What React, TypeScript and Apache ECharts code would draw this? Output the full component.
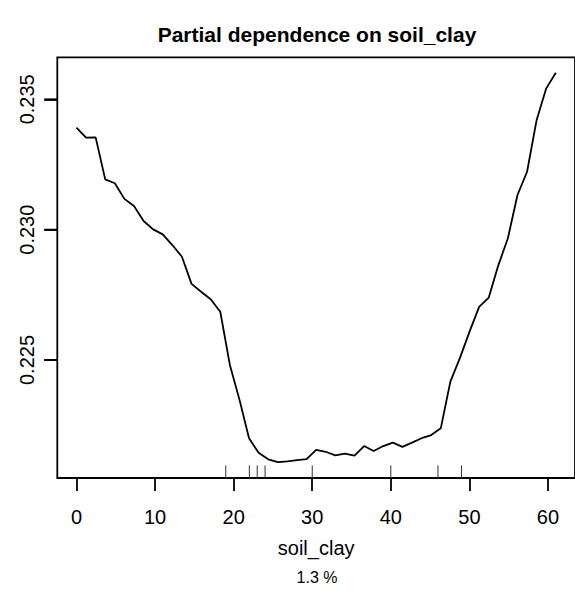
import React, { useEffect, useRef } from "react";
import * as echarts from "echarts";

// ---- data ----
const soilClay = [
  0, 1.22, 2.44, 3.66, 4.88, 6.1, 7.32, 8.54, 9.76, 10.98, 12.2, 13.42, 14.64,
  15.86, 17.08, 18.3, 19.52, 20.74, 21.96, 23.18, 24.4, 25.62, 26.84, 28.06,
  29.28, 30.5, 31.72, 32.94, 34.16, 35.38, 36.6, 37.82, 39.04, 40.26, 41.48,
  42.7, 43.92, 45.14, 46.36, 47.58, 48.8, 50.02, 51.24, 52.46, 53.68, 54.9,
  56.12, 57.34, 58.56, 59.78, 61,
];
const partialDependence = [
  0.23391, 0.23353, 0.23354, 0.23193, 0.23178, 0.23118, 0.23091, 0.23033,
  0.23001, 0.22982, 0.22941, 0.22896, 0.22792, 0.22762, 0.22733, 0.22685,
  0.22481, 0.22348, 0.222, 0.22144, 0.22119, 0.22108, 0.22111, 0.22116,
  0.2212, 0.22155, 0.22148, 0.22134, 0.22141, 0.22133, 0.2217, 0.22151,
  0.2217, 0.22183, 0.22167, 0.22183, 0.222, 0.22212, 0.22238, 0.22417,
  0.22508, 0.22609, 0.22704, 0.22739, 0.22863, 0.22967, 0.23133, 0.23222,
  0.23421, 0.23542, 0.23602,
];
const rugValues = [19, 22, 23, 24, 30, 40, 46, 49];
const xTickValues = [0, 10, 20, 30, 40, 50, 60];
const yTickValues = [0.225, 0.23, 0.235];

const titleText = "Partial dependence on soil_clay";
const xAxisTitle = "soil_clay";
const subText = "1.3 %";

// axis ranges (R style 4% extension)
const X_MIN = -2.44;
const X_MAX = 63.44;
const Y_MIN = 0.220474;
const Y_MAX = 0.236611;

const FONT = "'Liberation Sans', Arial, Helvetica, sans-serif";

export default function App() {
  const ref = useRef<HTMLDivElement>(null);

  useEffect(() => {
    if (!ref.current) return;
    const chart = echarts.init(ref.current, null, { renderer: "svg" });
    const lineData = soilClay.map((x, i) => [x, partialDependence[i]]);
    const rugData = rugValues.map((v) => [v, Y_MIN]);

    chart.setOption({
      animation: false,
      backgroundColor: "#ffffff",
      textStyle: { fontFamily: FONT },
      grid: {
        show: true,
        left: 57.3,
        top: 57.3,
        width: 520.7,
        height: 420.7,
        borderColor: "#000",
        borderWidth: 1.8,
        backgroundColor: "transparent",
      },
      xAxis: {
        type: "value",
        min: X_MIN,
        max: X_MAX,
        axisLine: { show: false },
        splitLine: { show: false },
        axisTick: {
          show: true,
          inside: false,
          length: 13,
          customValues: xTickValues,
          lineStyle: { color: "#000", width: 1.8 },
        },
        axisLabel: {
          customValues: xTickValues,
          fontSize: 20,
          color: "#000",
          fontFamily: FONT,
          margin: 29,
        },
        name: xAxisTitle,
        nameLocation: "middle",
        nameGap: 60,
        nameTextStyle: { fontSize: 20, color: "#000", fontFamily: FONT },
      },
      yAxis: {
        type: "value",
        position: "left",
        min: Y_MIN,
        max: Y_MAX,
        axisLine: { show: false, onZero: false },
        splitLine: { show: false },
        axisTick: {
          show: true,
          inside: false,
          length: 13,
          customValues: yTickValues,
          lineStyle: { color: "#000", width: 1.8 },
        },
        axisLabel: {
          customValues: yTickValues,
          rotate: 90,
          fontSize: 20,
          color: "#000",
          fontFamily: FONT,
          margin: 20,
          formatter: (v: number) => v.toFixed(3),
        },
      },
      graphic: [
        {
          type: "text",
          x: 317,
          y: 34,
          style: {
            text: titleText,
            fontSize: 21,
            fontWeight: "bold",
            fontFamily: FONT,
            fill: "#000",
            align: "center",
            verticalAlign: "middle",
          },
        },
        {
          type: "text",
          x: 317,
          y: 577,
          style: {
            text: subText,
            fontSize: 16,
            fontFamily: FONT,
            fill: "#000",
            align: "center",
            verticalAlign: "middle",
          },
        },
      ],
      series: [
        {
          type: "line",
          data: lineData,
          showSymbol: false,
          symbol: "none",
          lineStyle: { color: "#000", width: 1.8 },
          silent: true,
        },
        {
          type: "custom",
          data: rugData,
          silent: true,
          renderItem: (params: any, api: any) => {
            const p = api.coord([api.value(0), Y_MIN]);
            return {
              type: "line",
              shape: { x1: p[0], y1: p[1], x2: p[0], y2: p[1] - 12.6 },
              style: { stroke: "#333", lineWidth: 1 },
            };
          },
        },
        {
          // y-axis ticks drawn outward at the left edge of the box
          type: "custom",
          data: yTickValues.map((v) => [X_MIN, v]),
          silent: true,
          renderItem: (params: any, api: any) => {
            const p = api.coord([X_MIN, api.value(1)]);
            return {
              type: "line",
              shape: { x1: p[0], y1: p[1], x2: p[0] - 13, y2: p[1] },
              style: { stroke: "#000", lineWidth: 1.8 },
            };
          },
          clip: false,
        },
      ],
    });

    return () => chart.dispose();
  }, []);

  return (
    <div
      ref={ref}
      style={{ position: "absolute", left: 0, top: 0, width: 575, height: 595 }}
    />
  );
}
